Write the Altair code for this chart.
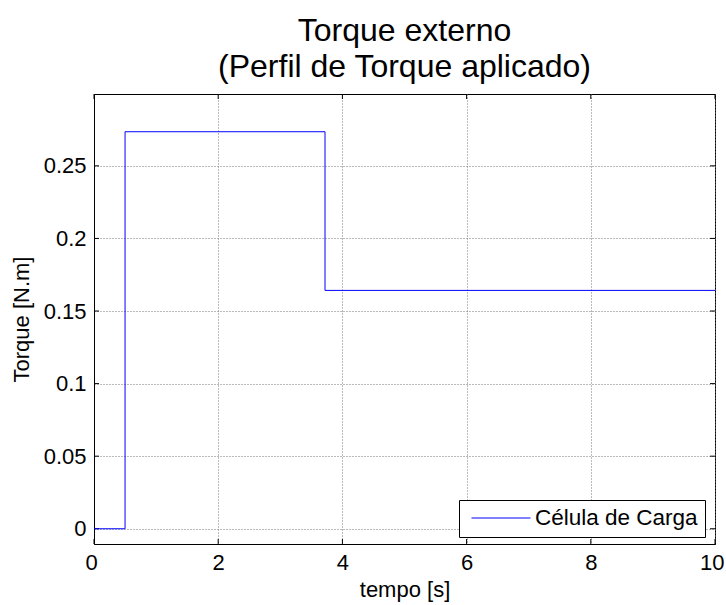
import altair as alt
import pandas as pd

# Applied torque profile (step input)
tempo = [0.0, 0.5, 3.72, 10.0]
torque = [0.0, 0.2735, 0.1642, 0.1642]
serie = "Célula de Carga"

x_ticks = [0, 2, 4, 6, 8, 10]
y_ticks = [0, 0.05, 0.1, 0.15, 0.2, 0.25]

W, H = 621, 450
FONT = "Liberation Sans"

df = pd.DataFrame({"tempo": tempo, "torque": torque, "serie": [serie] * len(tempo)})
xt = pd.DataFrame({"t": x_ticks})
yt = pd.DataFrame({"v": y_ticks})

x_scale = alt.Scale(domain=[0, 10], nice=False, zero=False)
y_scale = alt.Scale(domain=[-0.0105, 0.2995], nice=False, zero=False)
x_axis = alt.Axis(values=x_ticks, format="~f", labelFlush=True, labelFlushOffset=9)
y_axis = alt.Axis(values=y_ticks, format="~f", labelFlush=False)
X_TITLE = "tempo [s]"
Y_TITLE = "Torque [N.m]"

line = alt.Chart(df).mark_line(interpolate="step-after", strokeWidth=1).encode(
    x=alt.X("tempo:Q", scale=x_scale, title=X_TITLE, axis=x_axis),
    y=alt.Y("torque:Q", scale=y_scale, title=Y_TITLE, axis=y_axis),
    color=alt.Color("serie:N", scale=alt.Scale(range=["#0000ff"]),
                    legend=alt.Legend(title=None)),
)

# inward tick marks on all four sides of the box
tick_style = dict(color="black", strokeWidth=1)
xb = alt.Chart(xt).mark_rule(**tick_style).encode(
    x=alt.X("t:Q", scale=x_scale, title=X_TITLE, axis=x_axis),
    y=alt.value(H), y2=alt.value(H - 5))
xtop = alt.Chart(xt).mark_rule(**tick_style).encode(
    x=alt.X("t:Q", scale=x_scale, title=X_TITLE, axis=x_axis),
    y=alt.value(0), y2=alt.value(5))
yl = alt.Chart(yt).mark_rule(**tick_style).encode(
    y=alt.Y("v:Q", scale=y_scale, title=Y_TITLE, axis=y_axis),
    x=alt.value(0), x2=alt.value(5))
yr = alt.Chart(yt).mark_rule(**tick_style).encode(
    y=alt.Y("v:Q", scale=y_scale, title=Y_TITLE, axis=y_axis),
    x=alt.value(W), x2=alt.value(W - 5))

chart = alt.layer(xb, xtop, yl, yr, line).properties(
    width=W,
    height=H,
    autosize=alt.AutoSizeParams(type="none"),
    padding={"left": 94, "top": 94, "right": 11, "bottom": 61},
    title=alt.Title(
        ["Torque externo", "(Perfil de Torque aplicado)"],
        font=FONT, fontSize=32, fontWeight="normal", color="black",
        anchor="middle", offset=10, lineHeight=36,
    ),
).configure_view(
    stroke="black", strokeWidth=1
).configure_axis(
    labelFont=FONT, labelFontSize=22, labelColor="black",
    titleFont=FONT, titleFontSize=22, titleFontWeight="normal", titleColor="black",
    domainColor="black", domainWidth=1,
    ticks=False, labelPadding=8,
    grid=True, gridColor="#777777", gridDash=[1, 2], gridWidth=1, gridOpacity=1,
).configure_axisX(
    titlePadding=6
).configure_axisY(
    titlePadding=10
).configure_legend(
    orient="none", legendX=365, legendY=406,
    symbolType="stroke", symbolSize=3481, symbolStrokeWidth=1, symbolOffset=5,
    labelFont=FONT, labelFontSize=22.5, labelColor="black", labelLimit=300,
    strokeColor="black", fillColor="white", padding=7, labelOffset=4,
    clipHeight=22, cornerRadius=0,
)

chart.save("out.html", embed_options={"renderer": "svg", "actions": False})
